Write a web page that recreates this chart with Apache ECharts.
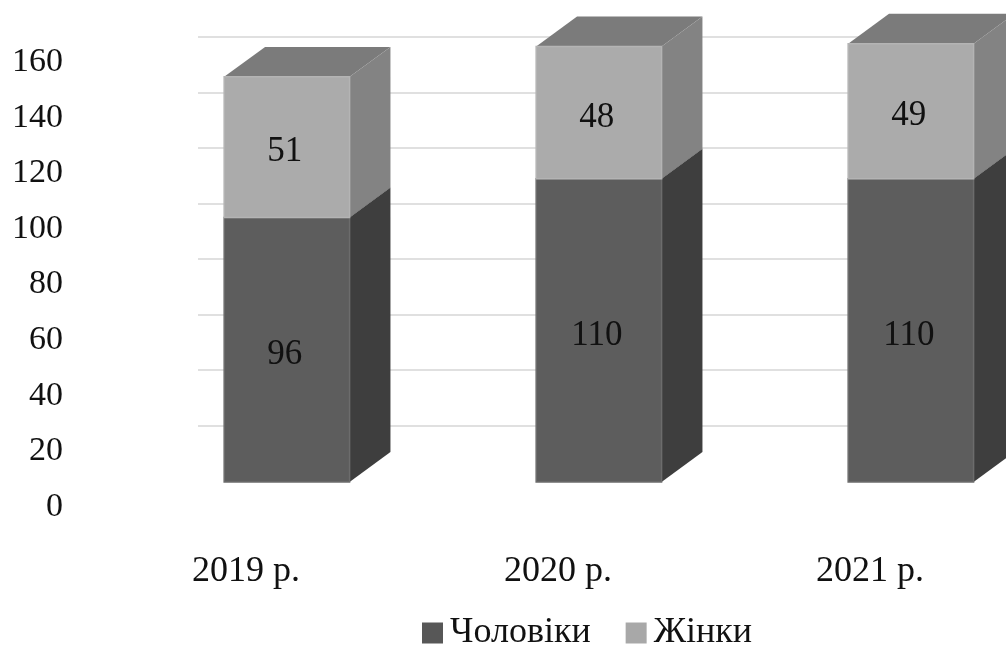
<!DOCTYPE html>
<html>
<head>
<meta charset="utf-8">
<script src="https://cdn.jsdelivr.net/npm/echarts@6/dist/echarts.min.js"></script>
<style>
  html, body { margin: 0; padding: 0; background: #ffffff; overflow: hidden; }
  #chart { width: 1040px; height: 646px; }
</style>
</head>
<body>
<div id="chart"></div>
<script>
// Categories and series values
const years = ['2019 р.', '2020 р.', '2021 р.'];
const men = [96, 110, 110];
const women = [51, 48, 49];
const seriesNames = ['Чоловіки', 'Жінки'];
const yTicks = { min: 0, max: 160, interval: 20 };

const FONT = '"Liberation Serif", "Times New Roman", serif';

// Stacked segments: [category index, lower bound, upper bound, segment value]
const menData = men.map((v, i) => [i, 0, v, v]);
const womenData = women.map((v, i) => [i, men[i], men[i] + v, v]);

// Draws one stacked segment as a box with a front face, right side and top
function boxRenderer(colors) {
  return function (params, api) {
    const i = api.value(0);
    const lo = api.value(1), hi = api.value(2), val = api.value(3);
    const pLo = api.coord([i, lo]);
    const pHi = api.coord([i, hi]);
    const band = api.size([1, 0])[0];
    const w = band * 0.402;
    const dx = band * 0.131;
    const dy = band * 0.096;
    const cx = pLo[0] + dx;
    const x0 = cx - w / 2, x1 = cx + w / 2;
    const yB = pLo[1], yT = pHi[1];
    return {
      type: 'group',
      children: [
        {
          type: 'polygon',
          shape: { points: [[x0, yT], [x0 + dx, yT - dy], [x1 + dx, yT - dy], [x1, yT]] },
          style: { fill: colors.top }
        },
        {
          type: 'polygon',
          shape: { points: [[x1, yB], [x1 + dx, yB - dy], [x1 + dx, yT - dy], [x1, yT]] },
          style: { fill: colors.side }
        },
        {
          type: 'rect',
          shape: { x: x0, y: yT, width: w, height: yB - yT },
          style: { fill: colors.front, stroke: colors.edge, lineWidth: 1.5 }
        },
        {
          type: 'text',
          style: {
            text: String(val),
            x: cx - 2, y: (yB + yT) / 2 + 5,
            align: 'center', verticalAlign: 'middle',
            fill: '#111111',
            font: '35px ' + FONT
          }
        }
      ]
    };
  };
}

const chart = echarts.init(document.getElementById('chart'), null, { renderer: 'canvas' });

chart.setOption({
  backgroundColor: '#ffffff',
  animation: false,
  grid: [
    // back wall with gridlines
    { left: 198, width: 842, top: 37, height: 444 },
    // bars and category labels
    { left: 90, width: 936, top: 41, height: 441 },
    // value labels
    { left: 198, width: 842, top: 62, height: 445 }
  ],
  legend: {
    data: seriesNames,
    left: 417,
    top: 610,
    icon: 'rect',
    itemWidth: 21,
    itemHeight: 21,
    itemGap: 35,
    textStyle: { fontFamily: FONT, fontSize: 36, color: '#111111', padding: [0, 0, 0, 2] }
  },
  xAxis: [
    { type: 'category', gridIndex: 0, data: years, show: false },
    {
      type: 'category', gridIndex: 1, data: years,
      axisLine: { show: false }, axisTick: { show: false },
      axisLabel: { fontFamily: FONT, fontSize: 36, color: '#111111', margin: 72 }
    },
    { type: 'category', gridIndex: 2, data: years, show: false }
  ],
  yAxis: [
    {
      type: 'value', gridIndex: 0,
      min: yTicks.min, max: yTicks.max, interval: yTicks.interval,
      axisLine: { show: false }, axisTick: { show: false }, axisLabel: { show: false },
      splitLine: {
        lineStyle: {
          color: ['rgba(0,0,0,0)', '#d6d6d6', '#d6d6d6', '#d6d6d6', '#d6d6d6',
                  '#d6d6d6', '#d6d6d6', '#d6d6d6', '#d6d6d6'],
          width: 1.5
        }
      }
    },
    {
      type: 'value', gridIndex: 1,
      min: yTicks.min, max: yTicks.max, interval: yTicks.interval,
      show: false
    },
    {
      type: 'value', gridIndex: 2,
      min: yTicks.min, max: yTicks.max, interval: yTicks.interval,
      axisLine: { show: false }, axisTick: { show: false }, splitLine: { show: false },
      axisLabel: {
        fontFamily: FONT, fontSize: 34, color: '#111111',
        margin: 135, align: 'right'
      }
    }
  ],
  series: [
    {
      name: seriesNames[0],
      type: 'custom',
      xAxisIndex: 1, yAxisIndex: 1,
      itemStyle: { color: '#575757' },
      renderItem: boxRenderer({ front: '#5d5d5d', side: '#3e3e3e', top: '#505050', edge: '#6c6c6c' }),
      data: menData,
      z: 2
    },
    {
      name: seriesNames[1],
      type: 'custom',
      xAxisIndex: 1, yAxisIndex: 1,
      itemStyle: { color: '#a8a8a8' },
      renderItem: boxRenderer({ front: '#ababab', side: '#838383', top: '#7b7b7b', edge: '#b4b4b4' }),
      data: womenData,
      z: 3
    }
  ]
});
</script>
</body>
</html>
